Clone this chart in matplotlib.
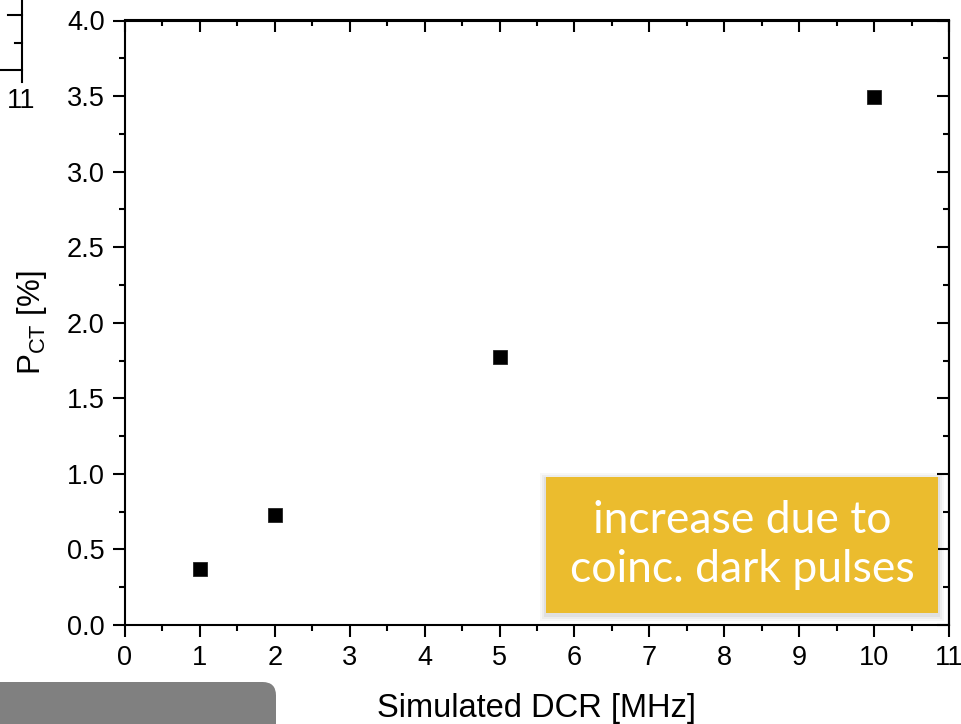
import matplotlib
matplotlib.use("Agg")
import matplotlib.pyplot as plt
from matplotlib.ticker import MultipleLocator, FormatStrFormatter
from matplotlib.patches import Rectangle, FancyBboxPatch
from matplotlib.lines import Line2D

# Simulated dark count rate vs. crosstalk probability
dcr_mhz = [1, 2, 5, 10]
p_ct = [0.37, 0.725, 1.775, 3.495]

x_label = "Simulated DCR [MHz]"
y_label = r"P$_{\mathrm{CT}}$ [%]"
note_text = "increase due to\ncoinc. dark pulses"

W, H = 961, 724
DPI = 100

plt.rcParams["font.family"] = ["Liberation Sans", "DejaVu Sans"]
plt.rcParams["mathtext.fontset"] = "custom"
plt.rcParams["mathtext.rm"] = "Liberation Sans"
plt.rcParams["mathtext.it"] = "Liberation Sans:italic"

fig = plt.figure(figsize=(W / DPI, H / DPI), dpi=DPI)


def px(x0, y0, w, h):
    """pixel box (top-left origin) -> figure fraction rect"""
    return [x0 / W, 1 - (y0 + h) / H, w / W, h / H]


ax_left, ax_top, ax_right, ax_bottom = 125, 20.5, 949, 625
ax = fig.add_axes(px(ax_left, ax_top, ax_right - ax_left, ax_bottom - ax_top))

ax.plot(dcr_mhz, p_ct, linestyle="none", marker="s", markersize=10.5,
        color="black", markeredgecolor="#222222", markeredgewidth=0.6,
        zorder=5, clip_on=False)

ax.set_xlim(0, 11)
ax.set_ylim(0, 4.0)
ax.xaxis.set_major_locator(MultipleLocator(1))
ax.xaxis.set_minor_locator(MultipleLocator(0.5))
ax.yaxis.set_major_locator(MultipleLocator(0.5))
ax.yaxis.set_minor_locator(MultipleLocator(0.25))
ax.yaxis.set_major_formatter(FormatStrFormatter("%.1f"))

for sp in ax.spines.values():
    sp.set_linewidth(1.5)

ax.tick_params(which="major", direction="out", length=8.5, width=1.5,
               labelsize=19.5, pad=6)
ax.tick_params(which="minor", direction="out", length=4.3, width=1.5)

# mirrored ticks on top and right pointing inward
top = ax.secondary_xaxis("top")
top.xaxis.set_major_locator(MultipleLocator(1))
top.xaxis.set_minor_locator(MultipleLocator(0.5))
top.tick_params(which="major", direction="in", length=8.5, width=1.5, labeltop=False)
top.tick_params(which="minor", direction="in", length=4.3, width=1.5)
top.spines["top"].set_linewidth(1.5)

right = ax.secondary_yaxis("right")
right.yaxis.set_major_locator(MultipleLocator(0.5))
right.yaxis.set_minor_locator(MultipleLocator(0.25))
right.tick_params(which="major", direction="in", length=8.5, width=1.5, labelright=False)
right.tick_params(which="minor", direction="in", length=4.3, width=1.5)
right.spines["right"].set_linewidth(1.5)

ax.set_xlabel(x_label, fontsize=23.5, labelpad=16)
ax.set_ylabel(y_label, fontsize=22.5, labelpad=13)

# callout box
bx, by, bw, bh = 546, 477, 392, 136
for i, a in enumerate([0.03, 0.04, 0.05]):
    d = 6 - 2 * i
    rr = px(bx - d, by - d + 2, bw + 2 * d, bh + 2 * d)
    fig.patches.append(Rectangle((rr[0], rr[1]), rr[2], rr[3],
                                 transform=fig.transFigure, facecolor="black",
                                 edgecolor="none", alpha=a, zorder=9))
r = px(bx, by, bw, bh)
fig.patches.append(Rectangle((r[0], r[1]), r[2], r[3], transform=fig.transFigure,
                             facecolor="#EBBC2E", edgecolor="none", zorder=10))
fig.text((bx + bw / 2) / W, 1 - 545 / H, note_text, ha="center", va="center",
         color="white", fontsize=32, family=["Lato", "DejaVu Sans"],
         linespacing=1.26, zorder=11)

# gray panel in the lower-left corner
g = FancyBboxPatch((-40 / W, 1 - (724 + 40) / H), (276 + 40) / W, (724 + 40 - 682) / H,
                   boxstyle="round,pad=0,rounding_size=0.014",
                   transform=fig.transFigure, facecolor="#808080",
                   edgecolor="none", zorder=10, mutation_aspect=W / H)
fig.patches.append(g)


# edge of the neighbouring panel at top-left
def fline(xs, ys):
    fig.lines.append(Line2D([x / W for x in xs], [1 - y / H for y in ys],
                            transform=fig.transFigure, color="black", linewidth=1.5))


fline([22, 22], [0, 82])
fline([0, 22], [70, 70])
fline([8, 22], [15, 15])
fline([15, 22], [43, 43])
fig.text(21 / W, 1 - 101 / H, "11", ha="center", va="center", fontsize=19.5)

fig.savefig("out.png", dpi=DPI)
